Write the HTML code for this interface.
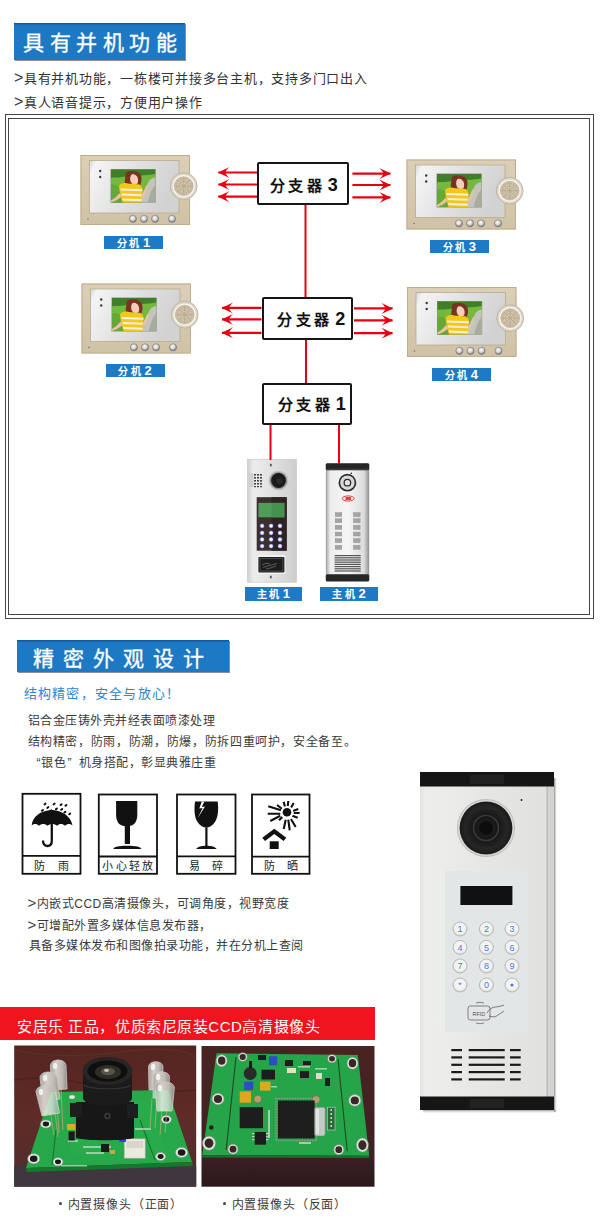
<!DOCTYPE html>
<html lang="zh-CN">
<head>
<meta charset="utf-8">
<style>
html,body{margin:0;padding:0;background:#fff;}
body{width:600px;height:1217px;position:relative;overflow:hidden;font-family:"Liberation Sans",sans-serif;color:#333;}
.a{position:absolute;white-space:nowrap;}
.hdr{position:absolute;background:#1e79c4;color:#fff;box-shadow:1px 1px 0 rgba(40,50,70,0.55), inset 0 1.5px 0 #11599d;}
.hdr span{position:absolute;white-space:nowrap;-webkit-text-stroke:0.3px #fff;}
.t13{font-size:13px;color:#333;letter-spacing:0.75px;}
.t12{font-size:12px;color:#3a3a3a;letter-spacing:0.5px;}
.ic{font-size:11px;color:#222;text-align:center;}
.gt{font-size:16px;line-height:1px;letter-spacing:0;margin-right:0.5px;}
.dg{font-size:18px;font-weight:bold;letter-spacing:0;margin-left:2.5px;}
.lbl{position:absolute;background:#1f7ac6;color:#fff;font-weight:bold;font-size:10px;text-align:center;line-height:13px;letter-spacing:2.6px;}
.lbl b{font-size:13px;letter-spacing:0;margin-left:1px;}
.sp{position:absolute;border:2px solid #151515;border-radius:2px;background:#fff;box-sizing:border-box;}
.sp span{position:absolute;white-space:nowrap;font-size:15px;font-weight:bold;color:#111;letter-spacing:3.6px;line-height:18px;}
</style>
</head>
<body>
<!-- header 1 -->
<div class="hdr" style="left:14px;top:23px;width:171px;height:37px;">
  <span style="left:9px;top:3px;font-size:21px;letter-spacing:5.5px;">具有并机功能</span>
</div>
<div class="a t13" style="left:14px;top:67.5px;"><span class="gt">&gt;</span>具有并机功能，一栋楼可并接多台主机，支持多门口出入</div>
<div class="a t13" style="left:14px;top:91.5px;"><span class="gt">&gt;</span>真人语音提示，方便用户操作</div>

<!-- diagram frame -->
<div style="position:absolute;left:5px;top:114px;width:587px;height:503px;border:1.5px solid #444;"></div>
<div style="position:absolute;left:8px;top:118px;width:580px;height:495px;border:1.5px solid #444;"></div>

<svg id="diag" style="position:absolute;left:0;top:0" width="600" height="1217" viewBox="0 0 600 1217">
<defs>
  <linearGradient id="gframe" x1="0" y1="0" x2="0" y2="1">
    <stop offset="0" stop-color="#dbcfb8"/><stop offset="1" stop-color="#d0c2a6"/>
  </linearGradient>
  <linearGradient id="gsilver" x1="0" y1="0" x2="1" y2="0.3">
    <stop offset="0" stop-color="#d6d6d6"/><stop offset="0.08" stop-color="#f4f4f4"/><stop offset="0.5" stop-color="#e2e2e2"/><stop offset="1" stop-color="#d2d2d2"/>
  </linearGradient>
  <radialGradient id="gbtn" cx="0.45" cy="0.4" r="0.6">
    <stop offset="0" stop-color="#ffffff"/><stop offset="0.55" stop-color="#cfcfcf"/><stop offset="1" stop-color="#6a6a6a"/>
  </radialGradient>
  <radialGradient id="gspk" cx="0.5" cy="0.5" r="0.5">
    <stop offset="0" stop-color="#dcd2c0"/><stop offset="1" stop-color="#c9bba0"/>
  </radialGradient>
  <marker id="ah" viewBox="0 0 12 11" refX="11.5" refY="5.5" markerWidth="12" markerHeight="11" markerUnits="userSpaceOnUse" orient="auto">
    <path d="M12 5.5 L0.3 0 Q4.2 3.2 4.2 5.5 Q4.2 7.8 0.3 11 Z" fill="#e60012"/>
  </marker>
  <symbol id="mon" viewBox="0 0 110 71" overflow="visible">
    <rect x="0" y="0" width="109.5" height="70" fill="url(#gframe)"/>
    <rect x="0.5" y="0.5" width="108.5" height="69" fill="none" stroke="#bfae8c" stroke-width="1"/>
    <rect x="9" y="5.5" width="89.5" height="52.5" fill="url(#gsilver)"/>
    <rect x="9" y="5.5" width="89.5" height="52.5" fill="none" stroke="#b9ab90" stroke-width="0.8"/>
    <!-- screen -->
    <rect x="30" y="14" width="45.2" height="34" fill="#8e8e88"/>
    <rect x="30.5" y="14.5" width="44.2" height="33" fill="#74b83e"/>
    <path d="M30.5 14.5 H74.7 V19 C66 21 54 20 42 22 C36 23 33 22 30.5 23 Z" fill="#3f7f2a"/>
    <path d="M30.5 30 C36 28 40 33 44 36 L44 47.5 H30.5 Z" fill="#5ea236" opacity="0.7"/>
    <path d="M61 47.5 H74.7 V22.5 C72 23 70 24 68.5 26 C66 31 63 38 60 44 Z" fill="#c3c5bd"/>
    <path d="M67 47.5 H74.7 V30 C71 34 69 40 67 47.5 Z" fill="#a8aba0"/>
    <path d="M45 21 C44.5 16 48 16 50 16 C54 16 56 18 56 24 C57 29 58.5 33 55 35 L47 35 C44.5 32 43.5 27 45 21 Z" fill="#7a3222"/>
    <ellipse cx="54.2" cy="23.8" rx="4.6" ry="6" fill="#f3cfb8"/>
    <path d="M50.5 16.2 C55 15.5 59 17 60.5 20.5 C61.5 24 61 28 59.5 31 L57 29 C58.5 25 57.5 21 54 19.5 C52 19 50 19.5 49 21 Z" fill="#7a3222"/>
    <path d="M38.5 31 C40 28 44 27.5 47 28.5 C51 29 56 29 59 29.5 C61.5 31 62 33 62 36 L61 47.5 H42 C40 42 39 36 38.5 31 Z" fill="#f2c81a"/>
    <path d="M40 33.5 L61.8 34.2 L61.8 36.2 L40.3 35.5 Z M41 38.5 L61.5 39.2 L61.5 41.2 L41.2 40.5 Z M41.8 43.5 L61.2 44.2 L61.2 46.2 L42 45.5 Z" fill="#f6f0dc"/>
    <path d="M39 38 C36 42 33 44 30.5 45.5 L30.5 47.5 C34 46.5 38 44.5 41 41.5 Z" fill="#eec0a4"/>
    <path d="M60.5 41 C63 37 64.5 33 66 30 L67.5 30.8 C66.5 35 64.5 40 61.5 43.5 Z" fill="#eec0a4"/>
    <!-- dots -->
    <circle cx="19.7" cy="16" r="1.2" fill="#3a3a3a"/>
    <circle cx="19.7" cy="22" r="1.2" fill="#3a3a3a"/>
    <circle cx="7.5" cy="64" r="0.8" fill="#7a6e5a"/>
    <!-- speaker -->
    <circle cx="103.2" cy="31.2" r="13.4" fill="#dcd6ca" stroke="#b8ad98" stroke-width="0.8"/>
    <circle cx="103.2" cy="31.2" r="11.2" fill="#f6f3ee"/>
    <circle cx="103.2" cy="31.2" r="9.4" fill="url(#gspk)" stroke="#b3a17f" stroke-width="0.5"/>
    <g stroke="#a8977a" stroke-width="0.6" fill="none" opacity="0.8">
      <circle cx="103.2" cy="31.2" r="2"/><circle cx="103.2" cy="31.2" r="4.5"/><circle cx="103.2" cy="31.2" r="7" stroke-dasharray="1 1"/>
      <path d="M103.2 23 V39.4 M95 31.2 H111.4 M97.4 25.4 L109 37 M109 25.4 L97.4 37"/>
    </g>
    <!-- buttons -->
    <g stroke="#777" stroke-width="0.5">
      <circle cx="52.4" cy="63.8" r="3.6" fill="url(#gbtn)"/>
      <circle cx="63.5" cy="63.8" r="3.6" fill="url(#gbtn)"/>
      <circle cx="74.6" cy="63.8" r="3.6" fill="url(#gbtn)"/>
      <circle cx="91.5" cy="63.8" r="3.6" fill="url(#gbtn)"/>
    </g>
  </symbol>
</defs>

<use href="#mon" x="80.5" y="155" width="110" height="71"/>
<use href="#mon" x="81.5" y="283.5" width="110" height="71"/>
<use href="#mon" x="406.5" y="159.5" width="110" height="71"/>
<use href="#mon" x="407" y="287" width="110" height="71"/>

<defs>
  <linearGradient id="gds1" x1="0" y1="0" x2="1" y2="0">
    <stop offset="0" stop-color="#cfcfcf"/><stop offset="0.12" stop-color="#ececec"/><stop offset="0.6" stop-color="#dedede"/><stop offset="1" stop-color="#cdcdcd"/>
  </linearGradient>
  <linearGradient id="gds2" x1="0" y1="0" x2="1" y2="0">
    <stop offset="0" stop-color="#a0a0a0"/><stop offset="0.1" stop-color="#ececec"/><stop offset="0.5" stop-color="#f6f6f6"/><stop offset="0.88" stop-color="#dcdcdc"/><stop offset="1" stop-color="#909090"/>
  </linearGradient>
  <radialGradient id="gkey" cx="0.5" cy="0.5" r="0.5">
    <stop offset="0" stop-color="#ffffff"/><stop offset="0.5" stop-color="#eceefe"/><stop offset="0.8" stop-color="#8a90ec"/><stop offset="1" stop-color="#5058c8"/>
  </radialGradient>
</defs>
<!-- door station 1 -->
<g>
  <rect x="247.5" y="459.2" width="49" height="123" fill="url(#gds1)"/>
  <rect x="247.5" y="459.2" width="49" height="123" fill="none" stroke="#c4c4c4" stroke-width="0.6"/>
  <ellipse cx="270.8" cy="465" rx="1" ry="1.6" fill="#555"/>
  <ellipse cx="270.8" cy="577" rx="1" ry="1.6" fill="#555"/>
  <g fill="#444">
    <rect x="254" y="474" width="2" height="1.6"/><rect x="257" y="474" width="2" height="1.6"/><rect x="260" y="474" width="2" height="1.6"/>
    <rect x="254" y="477" width="2" height="1.6"/><rect x="257" y="477" width="2" height="1.6"/><rect x="260" y="477" width="2" height="1.6"/>
    <rect x="254" y="480" width="2" height="1.6"/><rect x="257" y="480" width="2" height="1.6"/><rect x="260" y="480" width="2" height="1.6"/>
    <rect x="254" y="483" width="2" height="1.6"/><rect x="257" y="483" width="2" height="1.6"/><rect x="260" y="483" width="2" height="1.6"/>
    <rect x="254" y="486" width="2" height="1.2"/><rect x="257" y="486" width="2" height="1.2"/><rect x="260" y="486" width="2" height="1.2"/>
  </g>
  <rect x="248.5" y="473" width="5" height="14" fill="#d0d0d0"/>
  <circle cx="278.5" cy="480.5" r="9.8" fill="#bdbdbd"/>
  <circle cx="278.5" cy="480.5" r="8.6" fill="#8e8e8e"/>
  <circle cx="278.5" cy="480.5" r="7.4" fill="#1a1a1a"/>
  <circle cx="279.5" cy="481" r="3" fill="#2a2a2a"/>
  <rect x="256.7" y="497.2" width="30" height="53.5" fill="#3b302e"/>
  <rect x="271.5" y="497.2" width="15.2" height="53.5" fill="#2c2322"/>
  <rect x="258.4" y="502.9" width="26" height="14.4" fill="#4f9d58"/>
  <rect x="271.5" y="502.9" width="12.9" height="14.4" fill="#459150"/>
  <g fill="url(#gkey)">
    <circle cx="262.1" cy="525.9" r="2.4"/><circle cx="271.1" cy="525.9" r="2.4"/><circle cx="280" cy="525.9" r="2.4"/>
    <circle cx="262.1" cy="532.9" r="2.4"/><circle cx="271.1" cy="532.9" r="2.4"/><circle cx="280" cy="532.9" r="2.4"/>
    <circle cx="262.1" cy="539.5" r="2.4"/><circle cx="271.1" cy="539.5" r="2.4"/><circle cx="280" cy="539.5" r="2.4"/>
    <circle cx="262.1" cy="546.1" r="2.4"/><circle cx="271.1" cy="546.1" r="2.4"/><circle cx="280" cy="546.1" r="2.4"/>
  </g>
  <rect x="257.3" y="555.3" width="28.2" height="18.6" fill="#f4f4f4"/>
  <rect x="258.4" y="557" width="26" height="15.6" rx="1" fill="#1c1c1c"/>
  <rect x="260" y="558.5" width="22.8" height="12.6" fill="none" stroke="#555" stroke-width="0.8"/>
  <path d="M262 565 q4 -3 8 -1 M263 567.5 q6 -2 14 -4 M266 569 q5 -1 10 -3" stroke="#777" stroke-width="0.7" fill="none"/>
</g>
<!-- door station 2 -->
<g>
  <rect x="325.8" y="463.3" width="43.4" height="118" rx="1.5" fill="url(#gds2)"/>
  <rect x="325.8" y="463.3" width="43.4" height="7" rx="1.5" fill="#262626"/>
  <rect x="326.5" y="468.5" width="42" height="1.5" fill="#3a3a3a"/>
  <rect x="325.8" y="574.2" width="43.4" height="7.2" rx="1.5" fill="#262626"/>
  <circle cx="351.3" cy="473.3" r="0.8" fill="#222"/>
  <circle cx="347.4" cy="482.7" r="8.9" fill="#2a2a2a"/>
  <circle cx="347.4" cy="482.7" r="7.2" fill="#d9d9d9"/>
  <circle cx="347.4" cy="482.7" r="3.9" fill="#2e2e2e"/>
  <circle cx="347.4" cy="482.7" r="2.6" fill="#e4e4e4"/>
  <ellipse cx="348.2" cy="498.5" rx="6" ry="2.6" fill="none" stroke="#e23a3a" stroke-width="1"/>
  <rect x="345.5" y="497" width="5.5" height="3" fill="#e24040"/>
  <g fill="#a4a4a4" stroke="#8a8a8a" stroke-width="0.4">
    <rect x="335.2" y="512.7" width="6.6" height="3.9"/><rect x="353.5" y="512.7" width="6.6" height="3.9"/>
    <rect x="335.2" y="518.8" width="6.6" height="3.9"/><rect x="353.5" y="518.8" width="6.6" height="3.9"/>
    <rect x="335.2" y="525.4" width="6.6" height="3.9"/><rect x="353.5" y="525.4" width="6.6" height="3.9"/>
    <rect x="335.2" y="532.1" width="6.6" height="3.9"/><rect x="353.5" y="532.1" width="6.6" height="3.9"/>
    <rect x="335.2" y="538.7" width="6.6" height="3.9"/><rect x="353.5" y="538.7" width="6.6" height="3.9"/>
    <rect x="335.2" y="545.4" width="6.6" height="3.9"/><rect x="353.5" y="545.4" width="6.6" height="3.9"/>
  </g>
  <g fill="#555">
    <rect x="334.6" y="555" width="26.1" height="1.2"/><rect x="334.6" y="557.2" width="26.1" height="1.2"/>
    <rect x="334.6" y="559.4" width="26.1" height="1.2"/><rect x="334.6" y="561.6" width="26.1" height="1.2"/>
    <rect x="334.6" y="563.8" width="26.1" height="1.2"/><rect x="334.6" y="566" width="26.1" height="1.2"/>
    <rect x="334.6" y="568.2" width="26.1" height="1.2"/><rect x="334.6" y="570.4" width="26.1" height="1.2"/>
  </g>
</g>

<!-- red lines -->
<g stroke="#e60012" stroke-width="2" fill="none">
  <line x1="305.5" y1="203" x2="305.5" y2="297"/>
  <line x1="306" y1="338" x2="306" y2="383"/>
  <line x1="270.5" y1="424" x2="270.5" y2="460"/>
  <line x1="339" y1="424" x2="339" y2="464"/>
</g>
<g stroke="#e60012" stroke-width="2.2" fill="none" marker-end="url(#ah)">
  <line x1="257" y1="172.5" x2="218.3" y2="172.5"/>
  <line x1="257" y1="184.5" x2="218.3" y2="184.5"/>
  <line x1="257" y1="196.7" x2="218.3" y2="196.7"/>
  <line x1="352.4" y1="173.6" x2="390.4" y2="173.6"/>
  <line x1="352.4" y1="185" x2="390.4" y2="185"/>
  <line x1="352.4" y1="197.4" x2="390.4" y2="197.4"/>
  <line x1="261.5" y1="307.9" x2="222" y2="307.9"/>
  <line x1="261.5" y1="319.4" x2="222" y2="319.4"/>
  <line x1="261.5" y1="332.8" x2="222" y2="332.8"/>
  <line x1="354" y1="308.4" x2="392.5" y2="308.4"/>
  <line x1="354" y1="320.3" x2="392.5" y2="320.3"/>
  <line x1="354" y1="333.2" x2="392.5" y2="333.2"/>
</g>

</svg>


<!-- splitters -->
<div class="sp" style="left:257px;top:161.5px;width:92px;height:43px;"><span style="left:10.5px;top:12px;">分支器<b class="dg">3</b></span></div>
<div class="sp" style="left:261.5px;top:296.5px;width:91px;height:43px;"><span style="left:13.5px;top:11px;">分支器<b class="dg">2</b></span></div>
<div class="sp" style="left:261.5px;top:382.5px;width:90.5px;height:42px;"><span style="left:14px;top:10.5px;">分支器<b class="dg">1</b></span></div>
<!-- labels -->
<div class="lbl" style="left:104px;top:235.5px;width:59px;height:13px;">分机<b>1</b></div>
<div class="lbl" style="left:105.5px;top:364px;width:59px;height:13px;">分机<b>2</b></div>
<div class="lbl" style="left:430px;top:239.5px;width:58.5px;height:13px;">分机<b>3</b></div>
<div class="lbl" style="left:432px;top:368px;width:58.5px;height:13px;">分机<b>4</b></div>
<div class="lbl" style="left:244.5px;top:586.5px;width:57.5px;height:14px;line-height:14px;">主机<b>1</b></div>
<div class="lbl" style="left:320px;top:586.5px;width:58px;height:14px;line-height:14px;">主机<b>2</b></div>

<!-- header 2 -->
<div class="hdr" style="left:17px;top:640px;width:212px;height:32px;">
  <span style="left:16px;top:2px;font-size:21px;letter-spacing:9.1px;">精密外观设计</span>
</div>
<!-- section 2 text -->
<div class="a" style="left:23.5px;top:683px;font-size:13px;color:#2a86d0;letter-spacing:1.25px;">结构精密，安全与放心！</div>
<div class="a t12" style="left:27.5px;top:710.5px;">铝合金压铸外壳并经表面喷漆处理</div>
<div class="a t12" style="left:27.5px;top:731.5px;letter-spacing:0.65px;">结构精密，防雨，防潮，防爆，防拆四重呵护，安全备至。</div>
<div class="a t12" style="left:27.5px;top:753px;"><span style="display:inline-block;width:13.5px;text-align:right;">“</span>银色<span style="display:inline-block;width:12.5px;text-align:left;padding-left:1.5px;box-sizing:border-box;">”</span>机身搭配，彰显典雅庄重</div>

<!-- icons -->
<svg style="position:absolute;left:0;top:780px" width="330" height="100" viewBox="0 780 330 100">
  <g fill="none" stroke="#111" stroke-width="1.8">
    <rect x="22.5" y="793.8" width="58" height="80"/><line x1="22.5" y1="855.8" x2="80.5" y2="855.8"/>
    <rect x="98.8" y="794.5" width="58.2" height="79.3"/><line x1="98.8" y1="856.5" x2="157" y2="856.5"/>
    <rect x="177" y="794.5" width="58.5" height="79.3"/><line x1="177" y1="856.3" x2="235.5" y2="856.3"/>
    <rect x="252" y="794.5" width="57.5" height="79.3"/><line x1="252" y1="856.6" x2="309.5" y2="856.6"/>
  </g>
  <!-- umbrella -->
  <g transform="translate(22.5,793.8)">
    <path d="M9.2 31.8 C10 23 17.5 17.5 27.8 16.3 C28.2 15.2 29.4 15.2 29.8 16.3 C40.5 17.3 48.5 23 50 31.8 C47.5 29.8 45 29.8 42.5 32 C40 29.5 37 29.5 34.5 32 C32 29.5 27.5 29.5 25 32 C22.5 29.5 19 29.5 16.5 32 C14 29.8 11.5 29.8 9.2 31.8 Z" fill="#111"/>
    <path d="M29.3 17 V47 C29.3 51 27.5 52.2 25 52.2 C22.2 52.2 20.5 50.5 20.5 46.8" fill="none" stroke="#111" stroke-width="2.3"/>
    <g fill="#111"><ellipse cx="22.5" cy="10.2" rx="1.7" ry="1.05" transform="rotate(-38 22.5 10.2)"/><ellipse cx="31.6" cy="10.2" rx="1.7" ry="1.05" transform="rotate(-38 31.6 10.2)"/><ellipse cx="38.6" cy="10.8" rx="1.7" ry="1.05" transform="rotate(-38 38.6 10.8)"/><ellipse cx="43.4" cy="11.5" rx="1.7" ry="1.05" transform="rotate(-38 43.4 11.5)"/><ellipse cx="25.3" cy="13.7" rx="1.7" ry="1.05" transform="rotate(-38 25.3 13.7)"/><ellipse cx="33.9" cy="15.0" rx="1.7" ry="1.05" transform="rotate(-38 33.9 15.0)"/><ellipse cx="39.2" cy="15.6" rx="1.7" ry="1.05" transform="rotate(-38 39.2 15.6)"/><ellipse cx="42.4" cy="18.4" rx="1.7" ry="1.05" transform="rotate(-38 42.4 18.4)"/><ellipse cx="47.2" cy="20.0" rx="1.7" ry="1.05" transform="rotate(-38 47.2 20.0)"/><ellipse cx="19.9" cy="16.5" rx="1.7" ry="1.05" transform="rotate(-38 19.9 16.5)"/></g>
  </g>
  <!-- glass -->
  <g transform="translate(98.8,794.5)" fill="#111">
    <path d="M17.3 6.5 H38.5 L38.5 20 C38.5 26 36.5 31.8 27.9 31.8 C19.3 31.8 17.3 26 17.3 20 Z"/>
    <rect x="26" y="31" width="5.2" height="18.5"/>
    <path d="M14.5 54.5 C15 52 20 51.2 28.5 51.2 C37 51.2 42 52 42.5 54.5 Z"/>
  </g>
  <!-- wine glass -->
  <g transform="translate(177,794.5)">
    <path d="M18 7 H40.7 C41.5 14 41.5 22 38 27.5 C35.5 31.5 32 33.2 29.3 33.2 C26.6 33.2 23 31.5 20.5 27.5 C17 22 17.2 14 18 7 Z" fill="#111"/>
    <rect x="28.3" y="33" width="2.2" height="18.5" fill="#111"/>
    <path d="M19 54.5 C21 51.8 25 51.2 29.4 51.2 C33.8 51.2 37.7 51.8 39.7 54.5 Z" fill="#111"/>
    <path d="M24.8 7 L22.3 14 L25.6 13.4 L20.8 23.5 L28 12 L24.8 12.4 L27.3 7 Z" fill="#fff"/>
  </g>
  <!-- sun/house -->
  <g transform="translate(252,794.5)">
    <path d="M31.7 7.2 L33.0 12.5 M36.3 6.5 L35.7 11.8 M41.7 8.5 L39.0 13.2 M46.3 14.5 L41.0 16.5 M47.7 18.5 L41.7 18.5 M45.7 23.2 L40.3 21.2 M43.7 32.5 L39.0 24.5 M37.7 35.8 L36.3 25.2 M31.7 34.5 L33.7 25.2 M27.0 25.8 L30.3 22.5 M18.3 26.5 L28.3 21.2 M15.7 19.2 L28.3 19.2 M16.3 11.8 L29.0 15.8 M25.0 10.5 L30.3 14.5" stroke="#111" stroke-width="2.1" fill="none"/>
    <circle cx="35" cy="17.8" r="6.3" fill="#fff"/>
    <circle cx="35" cy="17.8" r="4.3" fill="#111"/>
    <path d="M10.3 43.3 L22.3 34.3 L34.3 43.3 L31.6 46.6 L22.3 39.4 L13 46.6 Z" fill="#111"/>
    <rect x="17.7" y="46.8" width="9" height="7.7" fill="#111"/>
  </g>
</svg>
<div class="a ic" style="left:22.5px;width:58px;top:857px;">防&nbsp;&nbsp;&nbsp;&nbsp;雨</div>
<div class="a ic" style="left:98.8px;width:58px;top:857px;letter-spacing:2.2px;text-indent:2.2px;">小心轻放</div>
<div class="a ic" style="left:177px;width:58.5px;top:857px;">易&nbsp;&nbsp;&nbsp;&nbsp;碎</div>
<div class="a ic" style="left:252px;width:57.5px;top:857px;">防&nbsp;&nbsp;&nbsp;&nbsp;晒</div>

<div class="a t12" style="left:27.5px;top:894px;"><span class="gt" style="font-size:15px">&gt;</span>内嵌式CCD高清摄像头，可调角度，视野宽度</div>
<div class="a t12" style="left:27.5px;top:916px;"><span class="gt" style="font-size:15px">&gt;</span>可增配外置多媒体信息发布器，</div>
<div class="a t12" style="left:28.5px;top:935.5px;">具备多媒体发布和图像拍录功能，并在分机上查阅</div>

<!-- big door station -->
<svg style="position:absolute;left:410px;top:765px" width="160" height="355" viewBox="410 765 160 355">
  <defs>
    <linearGradient id="gbig" x1="0" y1="0" x2="1" y2="0">
      <stop offset="0" stop-color="#e2e3e0"/><stop offset="0.04" stop-color="#eeefec"/><stop offset="0.5" stop-color="#e6e7e4"/><stop offset="1" stop-color="#e0e1de"/>
    </linearGradient>
    <radialGradient id="gcam" cx="0.5" cy="0.5" r="0.5">
      <stop offset="0" stop-color="#2a2a2a"/><stop offset="0.45" stop-color="#151515"/><stop offset="0.8" stop-color="#262626"/><stop offset="1" stop-color="#1a1a1a"/>
    </radialGradient>
    <radialGradient id="gbk" cx="0.5" cy="0.45" r="0.55">
      <stop offset="0" stop-color="#fbfbfb"/><stop offset="0.75" stop-color="#f0f0ee"/><stop offset="1" stop-color="#c9c9c5"/>
    </radialGradient>
  </defs>
  <defs><linearGradient id="gsh" x1="0" y1="0" x2="1" y2="0"><stop offset="0" stop-color="#666" stop-opacity="0.8"/><stop offset="1" stop-color="#fff" stop-opacity="0"/></linearGradient></defs>
  <rect x="554" y="778" width="3.5" height="334" fill="url(#gsh)"/>
  <defs><linearGradient id="gsh2" x1="0" y1="0" x2="0" y2="1"><stop offset="0" stop-color="#777" stop-opacity="0.7"/><stop offset="1" stop-color="#fff" stop-opacity="0"/></linearGradient></defs>
  <rect x="423" y="1110" width="133" height="4" fill="url(#gsh2)"/>
  <rect x="420" y="772" width="134" height="338" fill="url(#gbig)"/>
  <rect x="547" y="786" width="7" height="311" fill="#d3d4d0"/>
  <rect x="546.6" y="786" width="0.9" height="311" fill="#a9aaa6"/>
  <rect x="420" y="772" width="134" height="14.5" fill="#161616"/>
  <rect x="470" y="775" width="34" height="9" fill="#222"/>
  <rect x="420" y="1096.5" width="134" height="13.5" fill="#161616"/>
  <rect x="470" y="1099" width="34" height="9" fill="#222"/>
  <circle cx="521.5" cy="800" r="1" fill="#222"/>
  <circle cx="486" cy="828" r="29" fill="#bdbdbb"/>
  <circle cx="486" cy="828" r="28" fill="#d9d9d7"/>
  <circle cx="486" cy="828" r="26.4" fill="url(#gcam)"/>
  <circle cx="486" cy="828" r="12.5" fill="none" stroke="#3a3a3a" stroke-width="1.6"/>
  <circle cx="486" cy="828" r="7" fill="#0d0d0d"/>
  <rect x="445" y="871" width="83.4" height="161" fill="#e3e6e6"/>
  <rect x="460.4" y="886" width="52" height="19" fill="#111"/>
  <g fill="url(#gbk)" stroke="#b4b6b2" stroke-width="0.9">
    <circle cx="460" cy="929" r="7"/><circle cx="486.4" cy="929" r="7"/><circle cx="512" cy="929" r="7"/>
    <circle cx="460" cy="947.4" r="7"/><circle cx="486.4" cy="947.4" r="7"/><circle cx="512" cy="947.4" r="7"/>
    <circle cx="460" cy="966" r="7"/><circle cx="486.4" cy="966" r="7"/><circle cx="512" cy="966" r="7"/>
    <circle cx="460" cy="985" r="7"/><circle cx="486.4" cy="985" r="7"/><circle cx="512" cy="985" r="7"/>
  </g>
  <g font-family="Liberation Sans, sans-serif" font-size="9" fill="#4a74e8" text-anchor="middle">
    <text x="460" y="932.3">1</text><text x="486.4" y="932.3">2</text><text x="512" y="932.3">3</text>
    <text x="460" y="950.7">4</text><text x="486.4" y="950.7">5</text><text x="512" y="950.7">6</text>
    <text x="460" y="969.3">7</text><text x="486.4" y="969.3">8</text><text x="512" y="969.3">9</text>
    <text x="460" y="988.3">*</text><text x="486.4" y="988.3">0</text>
  </g>
  <circle cx="512" cy="985" r="1.6" fill="#4a74e8"/>
  <g fill="none" stroke="#555" stroke-width="0.7">
    <rect x="468" y="1006" width="22" height="14" rx="2.5"/>
    <path d="M476 1003 q4 -1.5 8 0 M476 1023 q4 1.5 8 0 M487 1013 q3 -6 9 -6 q6 -1 8 -2 M489 1016 q6 2 9 -1 q3 -2 6 -4"/>
  </g>
  <text x="472.5" y="1016" font-family="Liberation Sans, sans-serif" font-size="5.5" fill="#555">RFID</text>
  <g fill="#1a1a1a">
    <rect x="451.3" y="1049" width="10.7" height="2.2"/><rect x="468.7" y="1049" width="36" height="2.2"/><rect x="510" y="1049" width="10.7" height="2.2"/>
    <rect x="451.3" y="1056.3" width="10.7" height="2.2"/><rect x="468.7" y="1056.3" width="36" height="2.2"/><rect x="510" y="1056.3" width="10.7" height="2.2"/>
    <rect x="451.3" y="1063.7" width="10.7" height="2.2"/><rect x="468.7" y="1063.7" width="36" height="2.2"/><rect x="510" y="1063.7" width="10.7" height="2.2"/>
    <rect x="451.3" y="1071" width="10.7" height="2.2"/><rect x="468.7" y="1071" width="36" height="2.2"/><rect x="510" y="1071" width="10.7" height="2.2"/>
    <rect x="451.3" y="1078.3" width="10.7" height="2.2"/><rect x="468.7" y="1078.3" width="36" height="2.2"/><rect x="510" y="1078.3" width="10.7" height="2.2"/>
  </g>
</svg>

<!-- red banner -->
<div style="position:absolute;left:0;top:1007px;width:375px;height:33px;background:#f0141e;"></div>
<div class="a" style="left:17px;top:1015px;font-size:15px;color:#fff;letter-spacing:0.55px;">安居乐 正品，优质索尼原装CCD高清摄像头</div>

<!-- photos -->
<svg style="position:absolute;left:0;top:1040px" width="400" height="150" viewBox="0 1040 400 150">
  <defs>
    <linearGradient id="gbg1" x1="0" y1="0" x2="0" y2="1">
      <stop offset="0" stop-color="#552421"/><stop offset="0.5" stop-color="#602b27"/><stop offset="1" stop-color="#4e2e30"/>
    </linearGradient>
    <linearGradient id="gbg2" x1="0" y1="0" x2="0" y2="1">
      <stop offset="0" stop-color="#4a2322"/><stop offset="0.75" stop-color="#3e2224"/><stop offset="1" stop-color="#2a181a"/>
    </linearGradient>
    <linearGradient id="gled" x1="0" y1="0" x2="1" y2="0">
      <stop offset="0" stop-color="#b9c6bd"/><stop offset="0.35" stop-color="#f4f6f2"/><stop offset="0.7" stop-color="#d9e0da"/><stop offset="1" stop-color="#9aa79e"/>
    </linearGradient>
    <linearGradient id="gpcb" x1="0" y1="0" x2="0" y2="1">
      <stop offset="0" stop-color="#2fa34a"/><stop offset="1" stop-color="#1f8a3a"/>
    </linearGradient>
  </defs>
  <!-- photo 1 -->
  <rect x="14.2" y="1045.5" width="182" height="141.2" fill="url(#gbg1)"/>
  <path d="M14.2 1050 Q60 1060 120 1052 T196 1058" stroke="#6a3a32" stroke-width="1.2" fill="none" opacity="0.5"/>
  <path d="M14.2 1080 Q50 1075 90 1085 T196 1090" stroke="#3e1e1a" stroke-width="1.5" fill="none" opacity="0.5"/>
  <rect x="14.2" y="1166" width="182" height="20.7" fill="#3f363e"/>
  <path d="M51 1092 L168 1090 L192 1162 L26 1168 Z" fill="#27a84a"/>
  <path d="M26 1168 L192 1162 L193 1166 L27 1172 Z" fill="#137a2d"/>
  <path d="M80 1100 L150 1098 L165 1150 L68 1155 Z" fill="#2aad4c" opacity="0.5"/>
  <g fill="#e9ede9" stroke="#9aa39a" stroke-width="0.6">
    <ellipse cx="45.9" cy="1124" rx="5.3" ry="4"/><ellipse cx="33.7" cy="1158.8" rx="6" ry="5"/><ellipse cx="58" cy="1161.8" rx="5" ry="4"/>
    <ellipse cx="166.3" cy="1119.4" rx="5" ry="4"/><ellipse cx="181.6" cy="1152.5" rx="6" ry="5"/><ellipse cx="160.6" cy="1156.5" rx="5" ry="4"/>
    <ellipse cx="72" cy="1097" rx="3" ry="2"/>
  </g>
  <g fill="#1a1a1a">
    <ellipse cx="45.9" cy="1124" rx="3.2" ry="2.4"/><ellipse cx="33.7" cy="1158.8" rx="3.8" ry="3.2"/><ellipse cx="58" cy="1161.8" rx="3" ry="2.4"/>
    <ellipse cx="166.3" cy="1119.4" rx="3" ry="2.4"/><ellipse cx="181.6" cy="1152.5" rx="3.8" ry="3.2"/><ellipse cx="160.6" cy="1156.5" rx="3" ry="2.4"/>
  </g>
  <path d="M56 1130 L52 1165 M140 1120 L155 1160" stroke="#157a30" stroke-width="1.2"/>
  <g fill="#dfe8df" opacity="0.6">
    <rect x="68" y="1140" width="10" height="2"/><rect x="83" y="1146" width="28" height="2"/><rect x="86" y="1152" width="18" height="2"/><rect x="130" y="1108" width="8" height="2"/><rect x="135" y="1128" width="16" height="2"/><rect x="61" y="1165" width="26" height="1.5"/>
  </g>
  <rect x="124.2" y="1138.8" width="21" height="19.4" fill="#ece9df" stroke="#a9a79f" stroke-width="0.6"/>
  <rect x="126.5" y="1141" width="16.5" height="7" fill="#d8d5ca"/>
  <rect x="119.4" y="1136.3" width="6.5" height="5.7" fill="#2849c4"/>
  <rect x="67" y="1124" width="8.4" height="6" fill="#d8a828"/>
  <rect x="68.6" y="1131.5" width="6.1" height="9" fill="#1a1a1a"/>
  <rect x="101" y="1144" width="8" height="8" fill="#1a1a1a"/>
  <rect x="110" y="1150" width="5" height="4" fill="#cfa050"/>
  <!-- camera block -->
  <path d="M76 1102 H134 V1138 C125 1141 85 1141 76 1138 Z" fill="#171717"/>
  <rect x="70" y="1103" width="12" height="14" fill="#1e1e1e"/>
  <rect x="127" y="1104" width="11" height="14" fill="#1e1e1e"/>
  <circle cx="107.5" cy="1116" r="3.2" fill="#3a3a3a"/>
  <circle cx="107.5" cy="1116" r="1.5" fill="#111"/>
  <path d="M83 1072 V1098 C83 1108 132 1108 132 1098 V1072 Z" fill="#1b1b1b"/>
  <path d="M84 1085 C90 1090 125 1090 131 1085" stroke="#333" stroke-width="1.2" fill="none"/>
  <ellipse cx="107.5" cy="1071" rx="25" ry="14" fill="#262626"/>
  <ellipse cx="107.5" cy="1071" rx="20" ry="10.5" fill="#0f0f0f"/>
  <ellipse cx="108" cy="1072" rx="13" ry="7" fill="#2e2d28"/>
  <ellipse cx="108" cy="1071.5" rx="7" ry="3.8" fill="#55544a"/>
  <ellipse cx="106.5" cy="1070.5" rx="2.5" ry="1.4" fill="#c9c7b0"/>
  <!-- LED legs -->
  <g stroke="#b8a878" stroke-width="0.8">
    <line x1="56" y1="1089" x2="59" y2="1133"/><line x1="61" y1="1089" x2="63" y2="1130"/><line x1="50" y1="1110" x2="54" y2="1135"/><line x1="55" y1="1112" x2="58" y2="1137"/>
    <line x1="152" y1="1098" x2="150" y2="1130"/><line x1="157" y1="1098" x2="155" y2="1128"/><line x1="162" y1="1108" x2="160" y2="1135"/><line x1="167" y1="1108" x2="165" y2="1133"/>
  </g>
  <!-- LEDs -->
  <g fill="url(#gled)" stroke="#e8eee8" stroke-width="0.8" opacity="0.8">
    <path d="M50.4 1066 C50.4 1058 66 1058 66 1066 L67.1 1089 L51.5 1090 Z"/>
    <path d="M40 1078 C40 1070 56 1070 57 1078 L60 1099 L43 1101 Z"/>
    <path d="M36 1092 C36 1084 54 1083 55 1091 L59.5 1113 L42 1116 Z"/>
    <path d="M148.5 1067 C148.5 1060 163 1060 163 1067 L162 1090 L149 1090 Z"/>
    <path d="M153.3 1077 C153.3 1070 169.5 1070 169.5 1077 L168 1098 L153 1098 Z"/>
    <path d="M155 1087 C155 1080 174.4 1080 174.4 1088 L172 1111 L157 1111 Z"/>
  </g>
  <g fill="#ffffff" opacity="0.75">
    <ellipse cx="55" cy="1066" rx="2.2" ry="3.2"/><ellipse cx="45" cy="1078" rx="2.2" ry="3.2"/><ellipse cx="41" cy="1092" rx="2.2" ry="3.2"/>
    <ellipse cx="153" cy="1067" rx="2.2" ry="3.2"/><ellipse cx="158" cy="1077" rx="2.2" ry="3.2"/><ellipse cx="160" cy="1088" rx="2.2" ry="3.2"/>
  </g>

  <!-- photo 2 -->
  <rect x="201.5" y="1046" width="173" height="140.7" fill="url(#gbg2)"/>
  <path d="M216.5 1053.3 L357.8 1054.9 L369.2 1155.7 L202.2 1155.2 Z" fill="#25a44a"/>
  <path d="M202.2 1155.2 L369.2 1155.7 L369.3 1158 L202 1157.5 Z" fill="#16702f"/>
  <path d="M236 1057 L226.2 1150 M338 1058.7 L347.2 1151.2" stroke="#1c4a26" stroke-width="1.1"/>
  <g fill="#dfe4df" stroke="#8f958f" stroke-width="0.5"><ellipse cx="221.7" cy="1060.7" rx="5.5" ry="6.0"/><ellipse cx="242.7" cy="1057.0" rx="4.5" ry="4.2"/><ellipse cx="218.0" cy="1099.0" rx="6.0" ry="5.8"/><ellipse cx="209.0" cy="1143.2" rx="6.5" ry="7.0"/><ellipse cx="233.0" cy="1149.2" rx="5.0" ry="5.0"/><ellipse cx="332.0" cy="1058.7" rx="4.2" ry="4.0"/><ellipse cx="352.5" cy="1063.2" rx="5.5" ry="6.0"/><ellipse cx="354.8" cy="1100.4" rx="6.0" ry="5.8"/><ellipse cx="362.4" cy="1145.1" rx="6.0" ry="7.0"/><ellipse cx="338.8" cy="1149.7" rx="5.0" ry="5.0"/></g>
  <g fill="#3a2826"><ellipse cx="221.7" cy="1060.7" rx="3.7" ry="4.1"/><ellipse cx="242.7" cy="1057.0" rx="3.1" ry="2.9"/><ellipse cx="218.0" cy="1099.0" rx="4.1" ry="3.9"/><ellipse cx="209.0" cy="1143.2" rx="4.4" ry="4.8"/><ellipse cx="233.0" cy="1149.2" rx="3.4" ry="3.4"/><ellipse cx="332.0" cy="1058.7" rx="2.9" ry="2.7"/><ellipse cx="352.5" cy="1063.2" rx="3.7" ry="4.1"/><ellipse cx="354.8" cy="1100.4" rx="4.1" ry="3.9"/><ellipse cx="362.4" cy="1145.1" rx="4.1" ry="4.8"/><ellipse cx="338.8" cy="1149.7" rx="3.4" ry="3.4"/></g>
  <circle cx="211.3" cy="1127.5" r="2.3" fill="#2a2020"/>
  <circle cx="250.2" cy="1073.5" r="6.5" fill="#2a2a2a"/>
  <rect x="249" y="1061" width="3" height="7" fill="#1a1a1a"/>
  <rect x="261.5" y="1069.7" width="13.5" height="9.8" fill="#1d1d1d"/>
  <rect x="260" y="1081.7" width="10.5" height="9" fill="#dca820"/>
  <rect x="239.7" y="1091.5" width="11.3" height="11.2" fill="#dca820"/>
  <rect x="244.2" y="1081.7" width="9" height="8.3" fill="#2c4fc0"/>
  <rect x="269" y="1056.3" width="8.2" height="9" fill="#2c4fc0"/>
  <rect x="258" y="1055" width="8" height="5" fill="#1d1d1d"/>
  <circle cx="257.7" cy="1099" r="4" fill="#b0a070" stroke="#6a6040" stroke-width="0.6"/>
  <circle cx="316.1" cy="1099.6" r="4" fill="#b0a070" stroke="#6a6040" stroke-width="0.6"/>
  <rect x="239.7" y="1107.2" width="23.3" height="21" fill="#1d1d1d"/>
  <rect x="254.7" y="1132" width="11.3" height="12.7" fill="#1d1d1d"/>
  <g fill="#c8c8c0"><rect x="252" y="1133" width="2.5" height="1.2"/><rect x="252" y="1136" width="2.5" height="1.2"/><rect x="252" y="1139" width="2.5" height="1.2"/><rect x="266" y="1133" width="2.5" height="1.2"/><rect x="266" y="1136" width="2.5" height="1.2"/><rect x="266" y="1139" width="2.5" height="1.2"/></g>
  <rect x="276" y="1098.5" width="40.5" height="42" fill="none" stroke="#9aa39a" stroke-width="1.4" stroke-dasharray="0.8 0.8"/>
  <rect x="278" y="1100.5" width="36.6" height="38" fill="#1e1e1e"/>
  <rect x="314.6" y="1107.2" width="10.6" height="28.8" rx="2" fill="#c5c8c4" stroke="#7a7d7a" stroke-width="0.5"/>
  <rect x="316" y="1109" width="3" height="25" fill="#e8ebe8" opacity="0.8"/>
  <rect x="327.5" y="1107.2" width="7.5" height="22.8" fill="#2a6a3a" stroke="#cfd5cf" stroke-width="0.6"/>
  <g fill="#e0e4e0"><circle cx="331.2" cy="1110" r="0.9"/><circle cx="331.2" cy="1114" r="0.9"/><circle cx="331.2" cy="1118" r="0.9"/><circle cx="331.2" cy="1122" r="0.9"/><circle cx="331.2" cy="1126" r="0.9"/></g>
  <rect x="285" y="1060" width="8" height="6" fill="#1d1d1d"/>
  <rect x="287" y="1068" width="9" height="5" fill="#e8e0c0"/>
  <rect x="300" y="1071" width="9" height="7" fill="#1d1d1d"/>
  <rect x="316" y="1073" width="6" height="6" fill="#e0d8c8"/>
  <rect x="325" y="1078" width="5" height="8" fill="#1d1d1d"/>
  <rect x="303" y="1061" width="8" height="4" fill="#1d1d1d"/>
  <g fill="#d8e0d8" opacity="0.7"><rect x="298" y="1066" width="12" height="1.6"/><rect x="315" y="1068" width="12" height="1.6"/><rect x="299" y="1142" width="12" height="2"/><rect x="268" y="1110" width="2" height="28"/><rect x="271" y="1086" width="6" height="1.5"/></g>
</svg>
<div style="position:absolute;left:58.5px;top:1201.5px;width:3px;height:3px;border-radius:50%;background:#444;"></div><div class="a" style="left:67.5px;top:1194.5px;font-size:12px;color:#3a3a3a;letter-spacing:0.85px;">内置摄像头（正面）</div>
<div style="position:absolute;left:222.5px;top:1201.5px;width:3px;height:3px;border-radius:50%;background:#444;"></div><div class="a" style="left:231.5px;top:1194.5px;font-size:12px;color:#3a3a3a;letter-spacing:0.85px;">内置摄像头（反面）</div>

</body>
</html>
